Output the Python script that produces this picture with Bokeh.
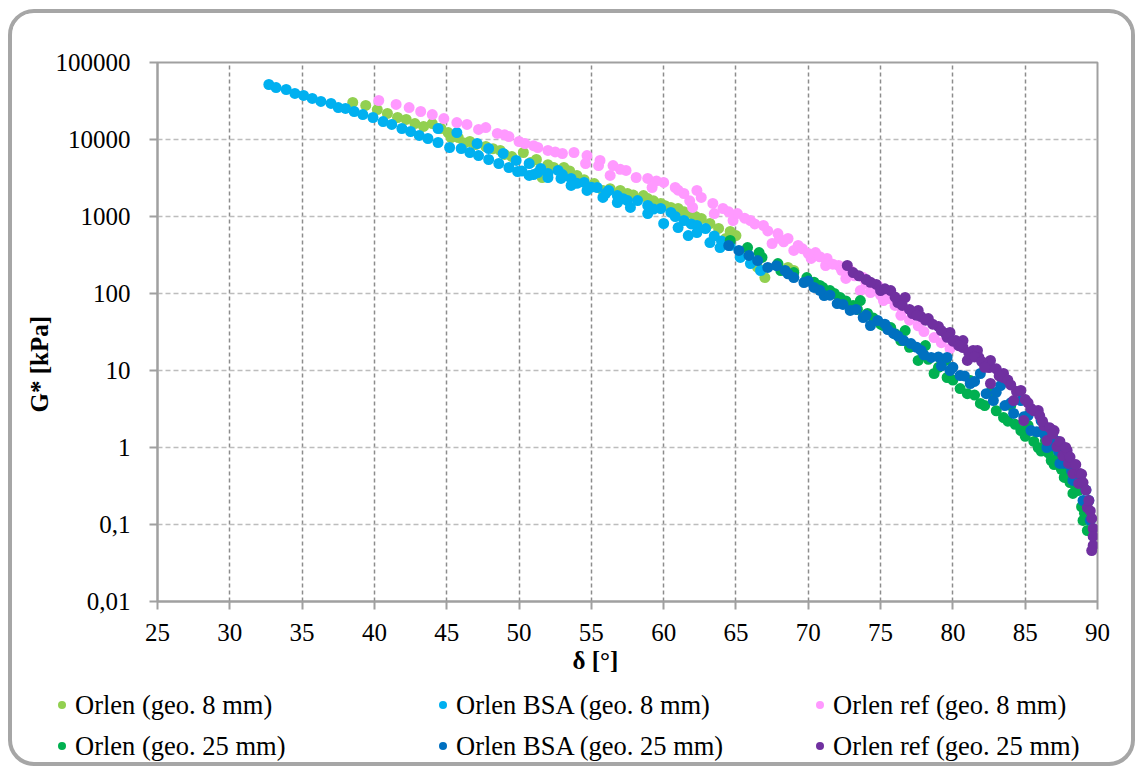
from bokeh.plotting import figure
from bokeh.layouts import column
from bokeh.models import FixedTicker, Title, CustomJSTickFormatter, Div
from bokeh.embed import file_html
from bokeh.resources import INLINE

# ---------------- data (delta [deg], G* [kPa]) ----------------
orlen8_delta = [38.5, 39.4, 40.2, 40.9, 41.6, 42.2, 42.8, 43.4, 44.0, 44.6, 45.1, 45.3, 45.8,
                46.6, 47.7, 48.7, 49.5, 50.3, 50.8, 51.6, 52.4, 53.1, 54.0, 55.2, 55.8, 57.0,
                57.5, 58.6, 58.9, 59.8, 60.5, 61.0, 61.9, 62.6, 63.2, 64.3, 65.0, 65.7, 66.5,
                67.0, 68.6, 69.0, 46.2, 47.0, 48.2, 49.0, 51.2, 52.0, 53.5, 54.5, 56.3, 57.9,
                59.3, 60.1, 61.4, 62.2, 63.8, 64.6]
orlen8_g = [30300, 27700, 24500, 21800, 19300, 18200, 16100, 14800, 16100, 13900, 12300, 10600, 10600,
            9420, 8110, 7200, 6010, 6780, 5020, 3210, 4330, 4330, 3410, 2680, 2180, 2180,
            1990, 1870, 1710, 1480, 1310, 1270, 1090, 942, 811, 518, 566, 362, 218,
            161, 218, 199, 9000, 8600, 7600, 6400, 5500, 4700, 3900, 3000, 2300, 1900,
            1600, 1380, 1150, 1000, 700, 640]

bsa8_delta = [32.7, 33.2, 33.9, 34.5, 35.1, 35.7, 36.3, 37.0, 37.5, 38.0, 38.6, 39.2, 39.9, 40.6,
              41.2, 41.9, 42.5, 43.1, 43.7, 44.4, 44.4, 45.2, 45.7, 46.0, 46.6, 47.2, 47.9, 48.6,
              49.3, 49.9, 50.7, 47.1, 47.9, 48.9, 49.8, 50.7, 51.3, 51.5, 52.0, 52.7, 53.6, 54.5,
              55.4, 56.2, 56.8, 57.5, 58.2, 58.9, 59.8, 60.5, 61.4, 62.3, 52.0, 52.9, 53.6, 54.7,
              55.8, 56.8, 57.7, 58.9, 60.0, 61.0, 61.7, 62.3, 62.9, 63.2, 63.9, 64.6, 65.3, 66.0,
              66.7, 50.2, 51.0, 53.0, 54.0, 55.0, 56.0, 57.2, 59.3, 60.8, 61.9, 63.5, 64.0]
bsa8_g = [51800, 47300, 44600, 39600, 37300, 34100, 31200, 29400, 26000, 25300, 23100, 21100, 19300, 17100,
          15700, 13900, 12700, 11300, 10300, 9140, 13900, 7870, 12300, 7640, 6780, 6190, 5500, 4880,
          4330, 3840, 3410, 8870, 7640, 6580, 5340, 4880, 3720, 4200, 3620, 3960, 3120, 2770,
          2380, 2180, 1870, 1610, 1610, 1390, 1270, 1130, 887, 764, 3210, 3120, 2530, 2180,
          1770, 1520, 1310, 1090, 811, 719, 566, 619, 698, 459, 395, 420, 294, 245,
          199, 3900, 3500, 3500, 2700, 2400, 2000, 1700, 1250, 1000, 800, 560, 480]

ref8_delta = [40.3, 41.5, 42.4, 43.2, 44.0, 44.8, 45.7, 46.4, 47.2, 47.7, 48.5, 49.3, 50.0, 50.4,
              51.3, 52.0, 53.0, 53.8, 54.7, 54.6, 55.5, 55.6, 56.5, 56.3, 57.4, 58.1, 58.9, 59.2,
              60.0, 60.8, 61.4, 62.3, 62.0, 62.6, 63.4, 63.5, 64.1, 64.8, 65.1, 66.0, 66.9, 67.5,
              67.9, 68.6, 69.0, 69.3, 70.2, 70.5, 71.2, 71.3, 72.1, 72.6, 72.9, 73.6, 73.8, 74.3,
              74.8, 75.2, 75.6, 76.4, 76.5, 77.6, 78.7, 79.8, 49.0, 51.0, 52.5, 57.0, 59.5, 61.0,
              61.8, 64.5, 65.6, 66.3, 67.2, 68.0, 68.3, 69.6, 70.0, 70.8, 71.7, 72.3, 73.2, 74.0,
              74.6, 75.0, 76.0, 77.0, 78.0, 79.2]
ref8_g = [32100, 28500, 26000, 23100, 21100, 18700, 16600, 15700, 13500, 14300, 12000, 10900, 9420, 8870,
          7870, 7200, 6580, 6780, 6190, 4880, 4590, 5340, 4590, 3410, 3960, 3210, 3120, 2380,
          2770, 2380, 1990, 2180, 1310, 1770, 1480, 1090, 1270, 887, 1090, 887, 764, 446,
          601, 518, 362, 420, 285, 340, 231, 285, 231, 157, 199, 109, 161, 103,
          127, 81, 86, 52, 60, 38, 26.8, 19.3, 11500, 8300, 6900, 4100, 2900, 2200,
          1600, 1150, 950, 800, 650, 520, 470, 380, 330, 300, 240, 200, 170, 135,
          110, 95, 70, 45, 32, 23]

orlen25_delta = [64.6, 65.8, 66.6, 66.8, 67.9, 68.1, 69.0, 69.9, 70.8, 71.5, 72.2, 73.1, 73.6, 74.1,
                 75.2, 75.7, 76.4, 76.7, 77.6, 78.1, 78.7, 79.5, 79.6, 80.5, 81.2, 81.9, 82.6, 83.5,
                 84.0, 84.7, 85.2, 85.9, 86.4, 86.8, 87.3, 87.7, 88.0, 88.3, 88.7, 89.0, 89.2, 89.3,
                 70.4, 71.0, 71.8, 72.6, 73.4, 74.5, 75.0, 76.0, 77.0, 78.3, 79.0, 80.0, 81.0, 81.5,
                 82.2, 83.0, 83.8, 84.3, 85.0, 85.6, 86.1, 86.6, 87.0, 87.5, 88.1, 88.5, 88.9, 89.1]
orlen25_g = [488, 395, 340, 294, 245, 199, 187, 161, 127, 109, 88.7, 69.8, 81, 55,
             38.4, 36.1, 24.5, 33, 13.5, 21.1, 9.14, 13.5, 8.11, 5.83, 7.41, 3.73, 5.18, 2.45,
             3.51, 1.66, 1.93, 1.0, 1.23, 0.678, 0.787, 0.408, 0.502, 0.253, 0.277, 0.113, 0.177, 0.0836,
             140, 120, 100, 80, 62, 48, 40, 30, 20, 14, 11, 7.5, 5.0, 4.8,
             3.5, 3.0, 2.2, 2.0, 1.4, 1.2, 0.9, 0.85, 0.6, 0.52, 0.35, 0.3, 0.17, 0.14]

bsa25_delta = [64.5, 65.2, 65.9, 66.5, 67.2, 68.4, 69.0, 69.7, 70.4, 71.1, 72.0, 72.9, 73.8, 74.8,
               74.3, 75.9, 76.6, 77.1, 77.8, 78.5, 79.6, 79.8, 80.5, 81.2, 81.9, 82.8, 83.3, 84.2,
               84.7, 85.4, 86.1, 86.5, 87.1, 87.4, 88.0, 88.3, 88.8, 89.0, 89.4, 89.5,
               67.8, 68.6, 70.0, 70.8, 71.5, 72.4, 73.3, 74.0, 75.3, 75.5, 76.2, 77.5, 78.0, 79.0,
               79.2, 80.0, 80.8, 81.5, 82.3, 83.0, 83.6, 84.0, 84.9, 85.2, 85.8, 86.3, 86.9, 87.3,
               87.7, 88.2, 88.6, 89.2]
bsa25_g = [420, 362, 312, 268, 218, 199, 161, 139, 120, 94.2, 74.1, 60.2, 48.8, 44.6,
           38.4, 30.3, 24.5, 22.4, 18.2, 14.8, 14.8, 10.0, 8.61, 6.78, 9.14, 4.07, 6.38, 2.77,
           4.07, 1.66, 2.24, 1.0, 1.23, 0.62, 0.719, 0.373, 0.395, 0.205, 0.205, 0.113,
           230, 180, 145, 110, 95, 72, 62, 52, 40, 34, 28, 20, 16, 15,
           11.5, 11, 8.5, 7.2, 5.0, 5.2, 3.5, 3.8, 2.5, 2.6, 1.6, 1.5, 1.05, 0.9,
           0.62, 0.5, 0.38, 0.28]

ref25_delta = [72.7, 73.1, 74.0, 74.7, 75.0, 75.7, 76.2, 76.7, 77.2, 77.6, 77.8, 78.3, 79.0, 79.5,
               79.8, 80.2, 80.7, 80.7, 81.0, 81.4, 81.7, 81.8, 82.5, 82.6, 82.6, 83.5, 83.5, 84.2,
               84.4, 84.7, 84.9, 85.4, 85.9, 86.3, 86.5, 87.0, 87.2, 87.6, 87.9, 88.0, 88.3, 88.7,
               88.8, 89.3, 89.4, 89.7, 89.7, 89.6,
               73.5, 74.3, 75.3, 76.0, 76.5, 77.0, 77.5, 78.1, 78.6, 79.2, 79.6, 80.0, 80.4, 81.1,
               81.5, 82.0, 82.2, 83.0, 83.2, 83.8, 84.0, 85.0, 85.2, 85.6, 86.0, 86.2, 86.7, 86.9,
               87.4, 87.8, 88.1, 88.5, 88.9, 89.0, 89.2, 89.5, 89.6, 89.7]
ref25_g = [231, 187, 152, 131, 109, 109, 76.4, 88.7, 55, 60.2, 50.2, 47.3, 37.3, 30.3,
           31.2, 24.5, 19.9, 24.5, 13.5, 18.2, 18.2, 14.8, 10.9, 13.5, 6.78, 8.11, 9.14, 4.07,
           5.34, 5.5, 2.24, 3.21, 3.03, 1.93, 1.23, 1.66, 1.03, 0.787, 0.914, 0.62, 0.459, 0.341,
           0.459, 0.166, 0.205, 0.0887, 0.0534, 0.0459,
           170, 140, 115, 90, 70, 62, 52, 45, 40, 33, 27, 24, 21, 17,
           15, 13, 11, 10.5, 8.5, 7.5, 6.5, 4.2, 3.8, 3.0, 2.6, 2.2, 1.8, 1.5,
           1.2, 1.0, 0.75, 0.6, 0.45, 0.35, 0.28, 0.15, 0.12, 0.07]

series_names = ["Orlen (geo. 8 mm)", "Orlen BSA (geo. 8 mm)", "Orlen ref (geo. 8 mm)",
                "Orlen (geo. 25 mm)", "Orlen BSA (geo. 25 mm)", "Orlen ref (geo. 25 mm)"]
series_colors = ["#92D050", "#00B0F0", "#FF99FF", "#00B050", "#0070C0", "#7030A0"]
series_data = [(orlen8_delta, orlen8_g), (bsa8_delta, bsa8_g), (ref8_delta, ref8_g),
               (orlen25_delta, orlen25_g), (bsa25_delta, bsa25_g), (ref25_delta, ref25_g)]

x_ticks = [25, 30, 35, 40, 45, 50, 55, 60, 65, 70, 75, 80, 85, 90]
y_ticks = [0.01, 0.1, 1, 10, 100, 1000, 10000, 100000]

FONT = "serif"
HTML_FONT = "'Liberation Serif', serif"
W = 1119

# ---------------- main chart ----------------
p = figure(width=W, height=677, x_range=(25, 90), y_range=(0.01, 100000),
           y_axis_type="log", output_backend="svg", toolbar_location=None,
           min_border_left=145, min_border_right=34, min_border_top=49, min_border_bottom=89)
p.background_fill_color = "white"
p.border_fill_color = "white"
p.outline_line_color = "#a0a0a0"
p.outline_line_width = 2

for (dx, gy), col in zip(series_data, series_colors):
    p.scatter(dx, gy, size=11, fill_color=col, line_color=None, marker="circle")

p.xaxis.ticker = FixedTicker(ticks=x_ticks)
p.yaxis.ticker = FixedTicker(ticks=y_ticks)
p.yaxis.formatter = CustomJSTickFormatter(code="""
    if (tick < 1) { return tick.toString().replace('.', ','); }
    return tick.toFixed(0);
""")
for ax in (p.xaxis[0], p.yaxis[0]):
    ax.axis_line_color = "#a0a0a0"
    ax.axis_line_width = 2
    ax.major_tick_line_color = "#a0a0a0"
    ax.major_tick_line_width = 2
    ax.major_tick_out = 8
    ax.major_tick_in = 0
    ax.minor_tick_line_color = None
    ax.major_label_text_font = FONT
    ax.major_label_text_font_size = "25px"
    ax.major_label_text_color = "black"
p.yaxis.major_label_standoff = 19
p.xaxis.major_label_standoff = 14

p.xgrid.grid_line_color = "#8c8c8c"
p.xgrid.grid_line_dash = "4 3"
p.xgrid.grid_line_width = 1.5
p.ygrid.grid_line_color = "#bdbdbd"
p.ygrid.grid_line_dash = "5 3"
p.ygrid.grid_line_width = 1.5

p.add_layout(Title(text="G* [kPa]", align="left", offset=189, standoff=0,
                   text_font=FONT, text_font_size="25px", text_font_style="bold",
                   text_color="black"), "left")
p.add_layout(Title(text="δ [°]", align="left", offset=415, standoff=6, vertical_align="top",
                   text_font=FONT, text_font_size="25px", text_font_style="bold",
                   text_color="black"), "below")

# ---------------- legend strip (3 columns x 2 rows, as in the original) ----------------
col_dot_x = [50, 431, 808]
row_dot_y = [15, 56]
items_html = []
for i, (name, col) in enumerate(zip(series_names, series_colors)):
    cx = col_dot_x[i % 3]
    cy = row_dot_y[i // 3]
    items_html.append(
        f'<span style="position:absolute;left:{cx - 4}px;top:{cy - 4}px;width:8px;height:8px;'
        f'border-radius:50%;background:{col};"></span>'
        f'<span style="position:absolute;left:{cx + 13}px;top:{cy - 20}px;height:40px;line-height:40px;'
        f'white-space:nowrap;">{name}</span>')
legend_html = (f'<div style="position:relative;width:{W}px;height:72px;font-family:{HTML_FONT};'
               f'font-size:26.5px;color:#000;">' + "".join(items_html) + '</div>')
legend_div = Div(text=legend_html, width=W, height=72, styles={"margin": "0", "padding": "0"})

layout = column(p, legend_div, spacing=0,
                styles={"border": "4px solid #a6a6a6", "border-radius": "26px", "overflow": "hidden",
                        "margin-left": "8px", "margin-top": "9px", "background-color": "white"})

open("out.html", "w").write(file_html(layout, INLINE))
